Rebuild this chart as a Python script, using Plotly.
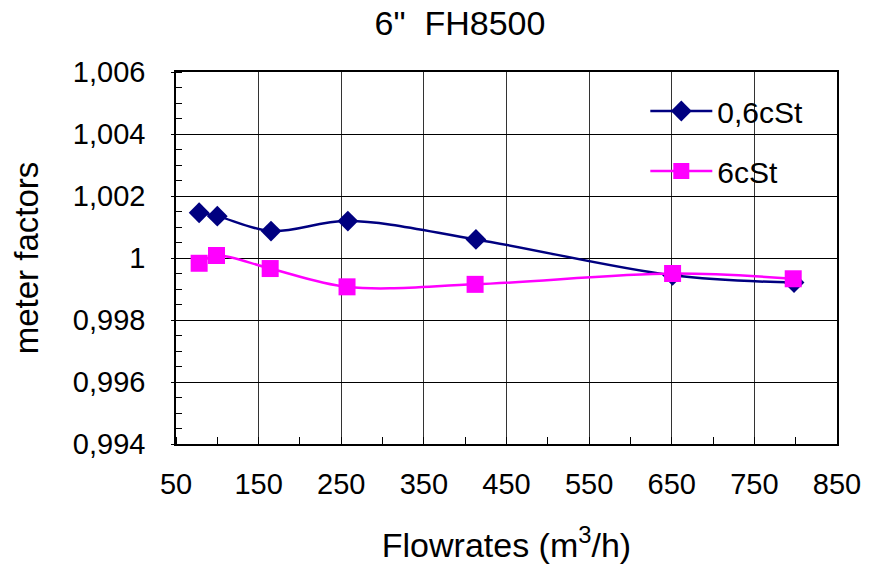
import plotly.graph_objects as go

# Data
flow_06 = [78, 100, 165, 258, 413, 651, 798]
mf_06 = [1.00146, 1.00135, 1.00087, 1.00119, 1.00060, 0.99944, 0.99921]

flow_6 = [78, 99, 164, 257, 412, 651, 797]
mf_6 = [0.99983, 1.00008, 0.99966, 0.99907, 0.99915, 0.99950, 0.99933]

y_tickvals = [0.994, 0.996, 0.998, 1.000, 1.002, 1.004, 1.006]
y_ticktext = ["0,994", "0,996", "0,998", "1", "1,002", "1,004", "1,006"]
x_tickvals = [50, 150, 250, 350, 450, 550, 650, 750, 850]

FONT = "Liberation Sans, Arial, sans-serif"

fig = go.Figure()
fig.add_trace(go.Scatter(
    x=flow_06, y=mf_06, name="0,6cSt", mode="lines+markers",
    line=dict(color="#000080", width=2.5, shape="spline", smoothing=1),
    marker=dict(symbol="diamond", size=16, color="#000080"),
    legendgroup="a",
))
fig.add_trace(go.Scatter(
    x=flow_6, y=mf_6, name="6cSt", mode="lines+markers",
    line=dict(color="#FF00FF", width=2.5, shape="spline", smoothing=1),
    marker=dict(symbol="square", size=17, color="#FF00FF"),
    legendgroup="b",
))

fig.update_layout(
    width=873, height=570,
    margin=dict(l=176, r=32, t=72, b=125),
    paper_bgcolor="white", plot_bgcolor="white",
    font=dict(family=FONT, color="black", size=29),
    title=dict(text='6"  FH8500', x=460/873, xanchor="center",
               y=1 - 23/570, yanchor="middle", font=dict(size=34)),
    showlegend=True,
    legend=dict(x=0.71, y=0.965, xanchor="left", yanchor="top",
                bgcolor="rgba(0,0,0,0)", font=dict(size=30),
                itemwidth=62, tracegroupgap=18, traceorder="grouped"),
)

fig.update_xaxes(
    range=[50, 850], tickvals=x_tickvals,
    showgrid=True, gridcolor="#333333", gridwidth=1,
    showline=True, linecolor="black", linewidth=1.5, mirror=True,
    ticks="", ticklabelstandoff=13,
    minor=dict(ticks="inside", dtick=50, tick0=50, ticklen=7,
               tickcolor="black", showgrid=False),
    title=dict(text="Flowrates (m<sup>3</sup>/h)", font=dict(size=34),
               standoff=35),
    zeroline=False,
)
fig.update_yaxes(
    range=[0.994, 1.006], tickvals=y_tickvals, ticktext=y_ticktext,
    showgrid=True, gridcolor="black", gridwidth=1,
    showline=True, linecolor="black", linewidth=1.5, mirror=True,
    ticks="outside", ticklen=3, tickcolor="black", ticklabelstandoff=20,
    minor=dict(ticks="inside", dtick=0.0005, tick0=0.994, ticklen=6,
               tickcolor="black", showgrid=False),
    title=dict(text="meter factors", font=dict(size=33), standoff=24),
    zeroline=False,
)

fig.write_html("out.html")
